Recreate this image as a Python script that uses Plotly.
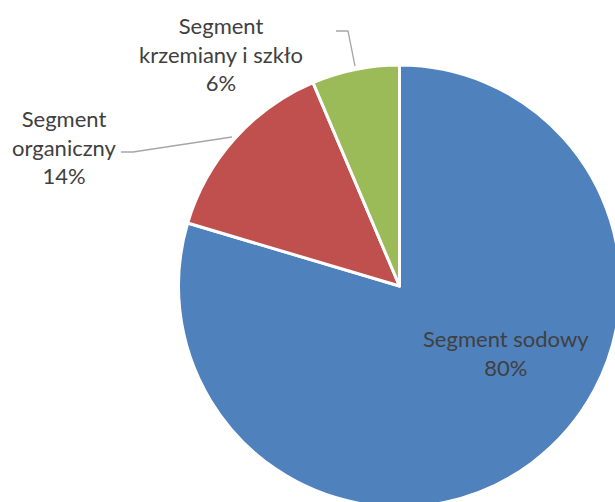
import plotly.graph_objects as go

labels = ["Segment sodowy", "Segment organiczny", "Segment krzemiany i szkło"]
shares = [79.6, 14.0, 6.4]
colors = ["#4F81BD", "#C0504D", "#9BBB59"]
label_lines = [["Segment sodowy"], ["Segment", "organiczny"], ["Segment", "krzemiany i szkło"]]

# figure is a little larger than the window so the pie runs off the right/bottom edge
W, H = 625, 510

def px(x):
    return x / W

def py(y):
    return 1 - y / H

fig = go.Figure(go.Pie(
    labels=labels,
    values=shares,
    sort=False,
    direction="clockwise",
    rotation=0,
    marker=dict(colors=colors, line=dict(color="white", width=3)),
    textinfo="none",
    hoverinfo="label+percent",
    domain=dict(x=[px(178.5), px(620.5)], y=[py(507), py(65)]),
    showlegend=False,
))

font = dict(family="Lato, Calibri, sans-serif", size=22, color="#404040")
total = sum(shares)
# label positions (pixel coords in the picture)
label_pos = [(506, 353), (64, 147), (221, 54)]
for lines, v, (x, y) in zip(label_lines, shares, label_pos):
    txt = "<br>".join(lines + [f"{round(100 * v / total)}%"])
    fig.add_annotation(x=px(x), y=py(y), xref="paper", yref="paper", text=txt,
                       showarrow=False, font=font, align="center",
                       xanchor="center", yanchor="middle")

# leader lines
leaders = [
    [(121, 152), (133, 152), (232, 137)],
    [(336, 31), (348, 31), (355, 66)],
]
for pts in leaders:
    path = "M " + " L ".join(f"{px(x)},{py(y)}" for x, y in pts)
    fig.add_shape(type="path", path=path, xref="paper", yref="paper",
                  line=dict(color="#A6A6A6", width=1.3))

fig.update_layout(
    width=W, height=H,
    margin=dict(l=0, r=0, t=0, b=0),
    paper_bgcolor="white",
    plot_bgcolor="white",
)

fig.write_html("out.html", config=dict(displayModeBar=False),
               post_script="document.body.style.margin='0';document.body.style.overflow='hidden';")
